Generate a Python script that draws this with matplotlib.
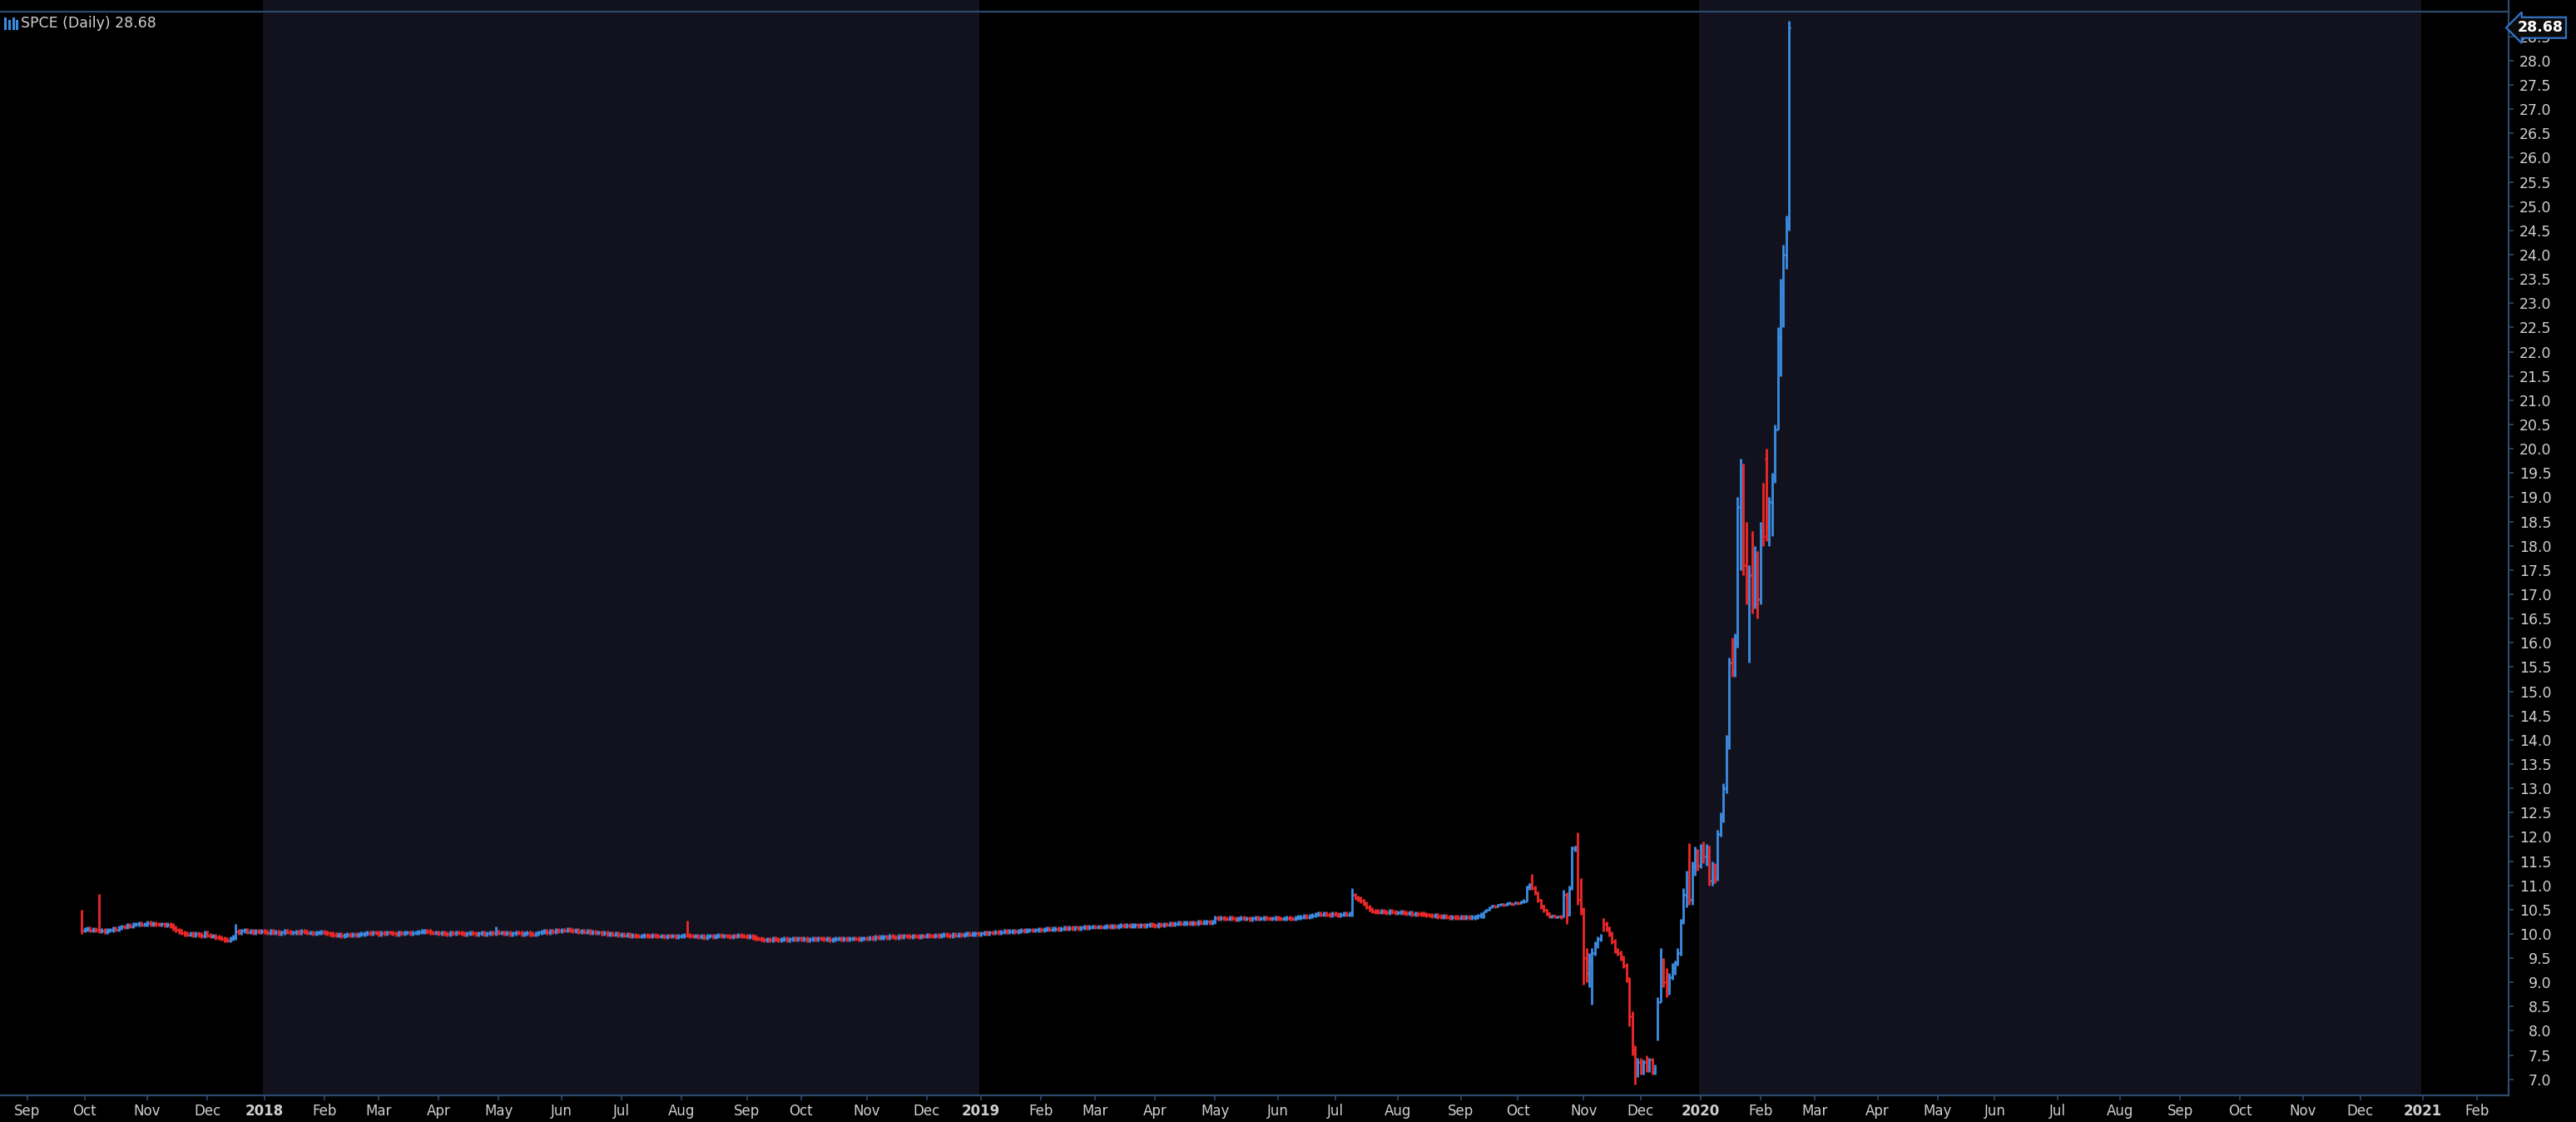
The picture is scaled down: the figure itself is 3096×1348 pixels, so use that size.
import numpy as np
import pandas as pd
import matplotlib
matplotlib.use("Agg")
import matplotlib.pyplot as plt
import matplotlib.transforms as mtransforms
from matplotlib.collections import LineCollection
from matplotlib.lines import Line2D

# exchange holidays, so the x axis runs on trading days like the platform does
holidays = ["2017-09-04", "2017-11-23", "2017-12-25",
            "2018-01-01", "2018-01-15", "2018-02-19", "2018-03-30", "2018-05-28",
            "2018-07-04", "2018-09-03", "2018-11-22", "2018-12-05", "2018-12-25",
            "2019-01-01", "2019-01-21", "2019-02-18", "2019-04-19", "2019-05-27",
            "2019-07-04", "2019-09-02", "2019-11-28", "2019-12-25",
            "2020-01-01", "2020-01-20", "2020-02-17", "2020-04-10", "2020-05-25",
            "2020-07-03", "2020-09-07", "2020-11-26", "2020-12-25",
            "2021-01-01", "2021-01-18", "2021-02-15"]

title = "SPCE (Daily) 28.68"
last_price = 28.68
first_day = "2017-09-29"
first_open = 10.10

# quiet period: daily closes
closes_2017 = [10.07, 10.09, 10.10, 10.07, 10.09, 10.08, 10.06, 10.07, 10.05, 10.07,
               10.08, 10.10, 10.09, 10.13, 10.15, 10.14, 10.17, 10.16, 10.19, 10.20,
               10.21, 10.19, 10.20, 10.22, 10.20, 10.21, 10.20, 10.19, 10.20, 10.18,
               10.19, 10.17, 10.12, 10.08, 10.05, 10.02, 10.00, 9.99, 10.00, 9.97,
               10.00, 9.98, 9.96, 10.02, 9.97, 9.95, 9.96, 9.93, 9.92, 9.90,
               9.88, 9.87, 9.90, 9.93, 10.05, 10.03, 10.06, 10.08, 10.04, 10.06,
               10.03, 10.05, 10.04, 10.05]

closes_2018 = [10.04, 10.02, 10.05, 10.03, 10.04, 10.01, 10.03, 10.05, 10.04, 10.02,
               10.03, 10.04, 10.03, 10.05, 10.04, 10.02, 10.03, 10.01, 10.02, 10.03,
               10.04, 10.02, 10.01, 10.00,
               9.98, 9.97, 9.98, 9.96, 9.97, 9.98, 9.97, 9.99, 9.98, 9.99, 10.00,
               10.01, 10.02, 10.01, 10.03, 10.02, 10.00, 10.02, 10.01, 10.03, 10.02,
               10.01, 10.00, 10.02, 10.01, 10.02, 10.03, 10.01, 10.02, 10.03, 10.04,
               10.05, 10.06,
               10.05, 10.03, 10.02, 10.03, 10.01, 10.02, 10.01, 10.00, 10.02, 10.01,
               10.03, 10.02, 10.01, 10.00, 10.01, 10.02, 10.01, 10.00, 10.01, 10.02,
               10.00, 10.01, 10.02, 10.01, 10.04,
               10.02, 10.03, 10.01, 10.02, 10.00, 10.01, 10.03, 10.02, 10.00, 10.01,
               10.02, 10.00, 9.99, 10.01, 10.03, 10.04, 10.05, 10.03, 10.06, 10.05,
               10.07, 10.06, 10.08, 10.07, 10.09, 10.07, 10.06, 10.07,
               10.05, 10.06, 10.04, 10.05, 10.03, 10.04, 10.02, 10.03, 10.01, 10.02,
               10.00, 10.01,
               9.99, 10.00, 9.98, 9.99, 9.97, 9.98, 9.96, 9.97, 9.96, 9.95,
               9.96, 9.97, 9.96, 9.95, 9.97, 9.96, 9.95, 9.96, 9.94, 9.96,
               9.95, 9.96, 9.94, 9.95, 9.96, 9.97,
               9.97,
               9.96, 9.95, 9.96, 9.94, 9.95, 9.93, 9.95, 9.96, 9.94, 9.95,
               9.97, 9.95, 9.96, 9.95, 9.94, 9.96, 9.95, 9.97, 9.96, 9.95,
               9.94, 9.95,
               9.93, 9.91, 9.90, 9.89, 9.88,
               9.89, 9.88, 9.90, 9.89, 9.88, 9.89, 9.90, 9.88, 9.89, 9.90,
               9.89, 9.91, 9.89, 9.90, 9.88, 9.89, 9.90, 9.89, 9.91, 9.90,
               9.89, 9.90, 9.88, 9.89, 9.90, 9.91, 9.89, 9.90, 9.89, 9.90,
               9.91, 9.90, 9.89, 9.90,
               9.91, 9.90, 9.92, 9.91, 9.93, 9.92, 9.93, 9.94, 9.93, 9.95,
               9.94, 9.93, 9.95, 9.94, 9.96, 9.95, 9.94, 9.96, 9.95, 9.94,
               9.96, 9.95, 9.97, 9.96, 9.95, 9.97, 9.96, 9.97, 9.98, 9.97,
               9.96, 9.98, 9.97, 9.99, 9.98, 9.99, 10.00, 9.99, 10.00, 10.01,
               10.00]

closes_2019 = [10.01, 10.02, 10.01, 10.03, 10.02, 10.04, 10.03, 10.04, 10.05, 10.04,
               10.05, 10.06, 10.05, 10.06, 10.07, 10.06, 10.07, 10.08, 10.07, 10.08,
               10.09, 10.08, 10.09, 10.10, 10.09, 10.10, 10.11, 10.10, 10.11, 10.12,
               10.11, 10.12, 10.11,
               10.13, 10.12, 10.13, 10.14, 10.13, 10.14, 10.15, 10.14, 10.15, 10.14,
               10.15, 10.16, 10.15, 10.16, 10.15, 10.16, 10.17, 10.16, 10.17, 10.16,
               10.17, 10.18, 10.17, 10.18, 10.17, 10.18, 10.19, 10.18, 10.17,
               10.19, 10.18, 10.20, 10.19, 10.21, 10.20, 10.21, 10.22, 10.21, 10.22,
               10.23, 10.22, 10.23, 10.22, 10.24, 10.23, 10.24, 10.25, 10.24, 10.25,
               10.33, 10.31, 10.33, 10.32, 10.31, 10.33, 10.32, 10.30, 10.32, 10.33,
               10.31, 10.32, 10.30, 10.32, 10.33, 10.31, 10.32, 10.33, 10.32, 10.31,
               10.32, 10.33, 10.32, 10.31, 10.32, 10.33, 10.32, 10.31,
               10.33, 10.34, 10.35, 10.36, 10.35, 10.37, 10.38, 10.40, 10.41, 10.40,
               10.42, 10.40, 10.39, 10.41, 10.40, 10.38, 10.40, 10.41, 10.40, 10.41,
               10.80,
               10.75, 10.72, 10.68, 10.62, 10.55, 10.50, 10.47,
               10.46, 10.45, 10.47, 10.45, 10.44, 10.46, 10.45, 10.43, 10.44, 10.45,
               10.43, 10.42, 10.43, 10.41, 10.42, 10.41,
               10.41, 10.40, 10.39, 10.38, 10.37, 10.38, 10.36, 10.35, 10.36, 10.35,
               10.34, 10.35, 10.34, 10.33, 10.34, 10.33, 10.34, 10.33, 10.34, 10.35,
               10.37, 10.40]

# wick spikes in the quiet period (bar number -> high)
spike_highs = {0: 10.49, 6: 10.83, 54: 10.20, 145: 10.15, 212: 10.28, 445: 10.95}

# from late Sep 2019 on: full OHLC per bar
vol_open = [10.34, 10.46, 10.50, 10.55, 10.58, 10.56, 10.60, 10.62, 10.60, 10.63,
            10.64, 10.62, 10.65, 10.64, 10.66, 10.67, 10.98, 11.02, 10.95, 10.85,
            10.70, 10.58, 10.50, 10.42, 10.36, 10.38, 10.35, 10.36, 10.34, 10.80,
            10.40, 10.95, 11.75, 11.80, 10.70, 10.50, 9.50, 9.20, 9.45, 9.60,
            9.80, 9.90, 10.30, 10.20, 10.10, 10.00, 9.85, 9.65, 9.60, 9.50,
            9.35, 9.05, 8.30, 7.60, 7.20, 7.35, 7.15, 7.35, 7.25, 7.40,
            7.15, 7.85, 8.60, 9.40, 9.00, 8.85, 9.10, 9.30, 9.40, 9.60,
            10.25, 10.80, 11.20, 10.70, 11.40, 11.70, 11.40, 11.75, 11.60, 11.80,
            11.10, 11.40, 11.15, 12.05, 12.40, 13.00, 14.00, 15.60, 15.40, 16.00,
            18.80, 19.50, 17.60, 17.00, 17.40, 16.80, 17.80, 16.90, 18.30, 19.80,
            18.40, 18.90, 19.40, 20.40, 22.30, 23.20, 24.00, 24.60]
vol_high = [10.47, 10.52, 10.56, 10.60, 10.59, 10.62, 10.64, 10.63, 10.65, 10.66,
            10.65, 10.67, 10.66, 10.68, 10.72, 11.00, 11.05, 11.24, 11.00, 10.88,
            10.72, 10.60, 10.52, 10.45, 10.40, 10.40, 10.38, 10.40, 10.90, 10.85,
            11.00, 11.80, 11.82, 12.10, 11.15, 10.55, 9.70, 9.60, 9.70, 9.85,
            9.95, 10.00, 10.33, 10.25, 10.15, 10.05, 9.90, 9.70, 9.65, 9.55,
            9.40, 9.10, 8.40, 7.70, 7.45, 7.45, 7.40, 7.50, 7.45, 7.45,
            7.30, 8.70, 9.70, 9.50, 9.30, 9.20, 9.40, 9.45, 9.70, 10.30,
            10.95, 11.30, 11.87, 11.50, 11.80, 11.75, 11.85, 11.90, 11.85, 11.82,
            11.50, 11.45, 12.15, 12.50, 13.10, 14.10, 15.70, 16.10, 16.20, 19.00,
            19.80, 19.70, 18.50, 17.60, 18.30, 18.00, 17.90, 18.50, 19.30, 20.00,
            19.00, 19.50, 20.50, 22.50, 23.50, 24.20, 24.80, 28.82]
vol_low = [10.33, 10.44, 10.48, 10.53, 10.53, 10.55, 10.58, 10.57, 10.59, 10.60,
           10.58, 10.61, 10.60, 10.62, 10.64, 10.66, 10.90, 10.90, 10.80, 10.65,
           10.52, 10.45, 10.38, 10.33, 10.32, 10.33, 10.32, 10.30, 10.34, 10.21,
           10.38, 10.90, 11.70, 10.60, 10.40, 8.95, 9.00, 8.90, 8.54, 9.55,
           9.70, 9.85, 10.05, 10.05, 9.95, 9.80, 9.60, 9.55, 9.45, 9.30,
           9.00, 8.10, 7.50, 6.90, 7.05, 7.10, 7.10, 7.15, 7.15, 7.10,
           7.10, 7.80, 8.60, 8.90, 8.70, 8.75, 9.05, 9.15, 9.35, 9.55,
           10.20, 10.55, 10.60, 10.60, 11.20, 11.30, 11.35, 11.45, 11.40, 11.00,
           11.00, 11.05, 11.10, 12.00, 12.30, 12.90, 13.80, 15.30, 15.30, 15.90,
           17.50, 17.40, 16.80, 15.60, 16.60, 16.70, 16.50, 16.80, 18.00, 18.10,
           18.00, 18.20, 19.30, 20.40, 21.50, 22.50, 23.70, 24.50]
vol_close = [10.46, 10.50, 10.55, 10.58, 10.56, 10.60, 10.62, 10.60, 10.63, 10.64,
             10.62, 10.65, 10.64, 10.66, 10.67, 10.98, 11.02, 10.95, 10.85, 10.70,
             10.58, 10.50, 10.42, 10.36, 10.38, 10.35, 10.36, 10.34, 10.80, 10.40,
             10.95, 11.79, 11.80, 10.70, 10.50, 9.50, 9.20, 9.45, 9.60, 9.80,
             9.90, 9.95, 10.20, 10.10, 10.00, 9.85, 9.65, 9.60, 9.50, 9.35,
             9.05, 8.30, 7.60, 7.20, 7.35, 7.15, 7.35, 7.25, 7.40, 7.15,
             7.20, 8.60, 9.40, 9.00, 8.85, 9.10, 9.30, 9.40, 9.60, 10.25,
             10.80, 11.20, 10.70, 11.40, 11.70, 11.40, 11.75, 11.60, 11.80, 11.10,
             11.40, 11.15, 12.05, 12.40, 13.00, 14.00, 15.60, 15.40, 16.00, 18.80,
             19.50, 17.60, 17.00, 17.40, 16.80, 17.80, 16.90, 18.30, 18.20, 18.40,
             18.90, 19.40, 20.40, 22.30, 23.20, 24.00, 24.60, 28.68]

# colours
bg = "#000000"
shade = "#11121e"
up_col = "#3b8de3"
dn_col = "#f02828"
axis_col = "#2c4a6e"
text_col = "#cfcfcf"

# ---- build OHLC ----
flat_close = np.array(closes_2017 + closes_2018 + closes_2019)
flat_open = np.concatenate([[first_open], flat_close[:-1]])
flat_high = np.maximum(flat_open, flat_close) + 0.045
flat_low = np.minimum(flat_open, flat_close) - 0.045
for k, v in spike_highs.items():
    flat_high[k] = v
flat_low[0] = 10.0

opens = np.concatenate([flat_open, vol_open])
highs = np.concatenate([flat_high, vol_high])
lows = np.concatenate([flat_low, vol_low])
closes = np.concatenate([flat_close, vol_close])

# trading-day calendar -> x positions
cal = pd.bdate_range("2017-08-01", "2021-03-31", freq="C", holidays=holidays)
def tidx(d):
    return cal.searchsorted(pd.Timestamp(d))

x0 = tidx(first_day)
xs = x0 + np.arange(len(closes))

fig = plt.figure(figsize=(30.96, 13.48), dpi=100, facecolor=bg)
ax = fig.add_axes([0, 32 / 1348, 3015 / 3096, 1302 / 1348], facecolor=bg)

# alternating year shading
for yr in [2018, 2020]:
    ax.axvspan(tidx(f"{yr}-01-01") - 0.5, tidx(f"{yr + 1}-01-01") - 0.5, ymin=0, ymax=1.012,
               color=shade, zorder=0, lw=0, clip_on=False)

# OHLC bars
segs, cols = [], []
for xi, op, hi, lo, cl in zip(xs, opens, highs, lows, closes):
    c = up_col if cl > op else dn_col
    segs += [[(xi, lo), (xi, hi)], [(xi - 0.45, op), (xi, op)], [(xi, cl), (xi + 0.45, cl)]]
    cols += [c, c, c]
ax.add_collection(LineCollection(segs, colors=cols, linewidths=2.0, capstyle="butt", zorder=3))

ax.set_xlim(tidx("2017-09-01") - 9.6, tidx("2021-01-01") + 30)
ax.set_ylim(6.67, 29.01)

# axes look
ax.spines["left"].set_visible(False)
for s in ["top", "right", "bottom"]:
    ax.spines[s].set_color(axis_col)
    ax.spines[s].set_linewidth(1.6)
fig.add_artist(Line2D([3015 / 3096, 3015 / 3096], [1 - 14 / 1348, 1.0],
                      transform=fig.transFigure, color=axis_col, lw=1.6))

# month ticks
months = pd.date_range("2017-09-01", "2021-02-01", freq="MS")
ax.set_xticks([tidx(m) for m in months])
ax.set_xticklabels([str(m.year) if m.month == 1 else m.strftime("%b") for m in months])
for lab, m in zip(ax.get_xticklabels(), months):
    if m.month == 1:
        lab.set_fontweight("bold")
        lab.set_color("#ececec")
ax.tick_params(axis="x", colors=axis_col, labelcolor=text_col, labelsize=12,
               length=4, width=1.2, pad=3)

yt = np.arange(7.0, 28.51, 0.5)
ax.yaxis.tick_right()
ax.set_yticks(yt)
ax.set_yticklabels([f"{v:.1f}" for v in yt])
ax.tick_params(axis="y", colors=axis_col, labelcolor=text_col, labelsize=12.5,
               length=4, width=1.2, pad=33)
for lab in ax.get_yticklabels():
    lab.set_horizontalalignment("right")

# last price tag
tr = mtransforms.blended_transform_factory(ax.transAxes, ax.transData)
ax.text(1.0035, last_price, f"{last_price:.2f}", transform=tr, ha="left", va="center",
        fontsize=12.5, fontweight="bold", color="white", zorder=10, clip_on=False,
        bbox=dict(boxstyle="larrow,pad=0.2", fc="#0b0b0b", ec="#3474c8", lw=1.6))

# title with a small bar icon
fig.text(25 / 3096, 1 - 28 / 1348, title, color=text_col, fontsize=12.5, va="center", ha="left")
for px, y1, y2 in [(6, 22, 34), (11, 25, 34), (16, 22, 34), (20, 25, 34)]:
    fig.add_artist(Line2D([px / 3096, px / 3096], [1 - y2 / 1348, 1 - y1 / 1348],
                          transform=fig.transFigure, color=up_col, lw=2.2))

fig.savefig("out.png", dpi=100, facecolor=bg)
